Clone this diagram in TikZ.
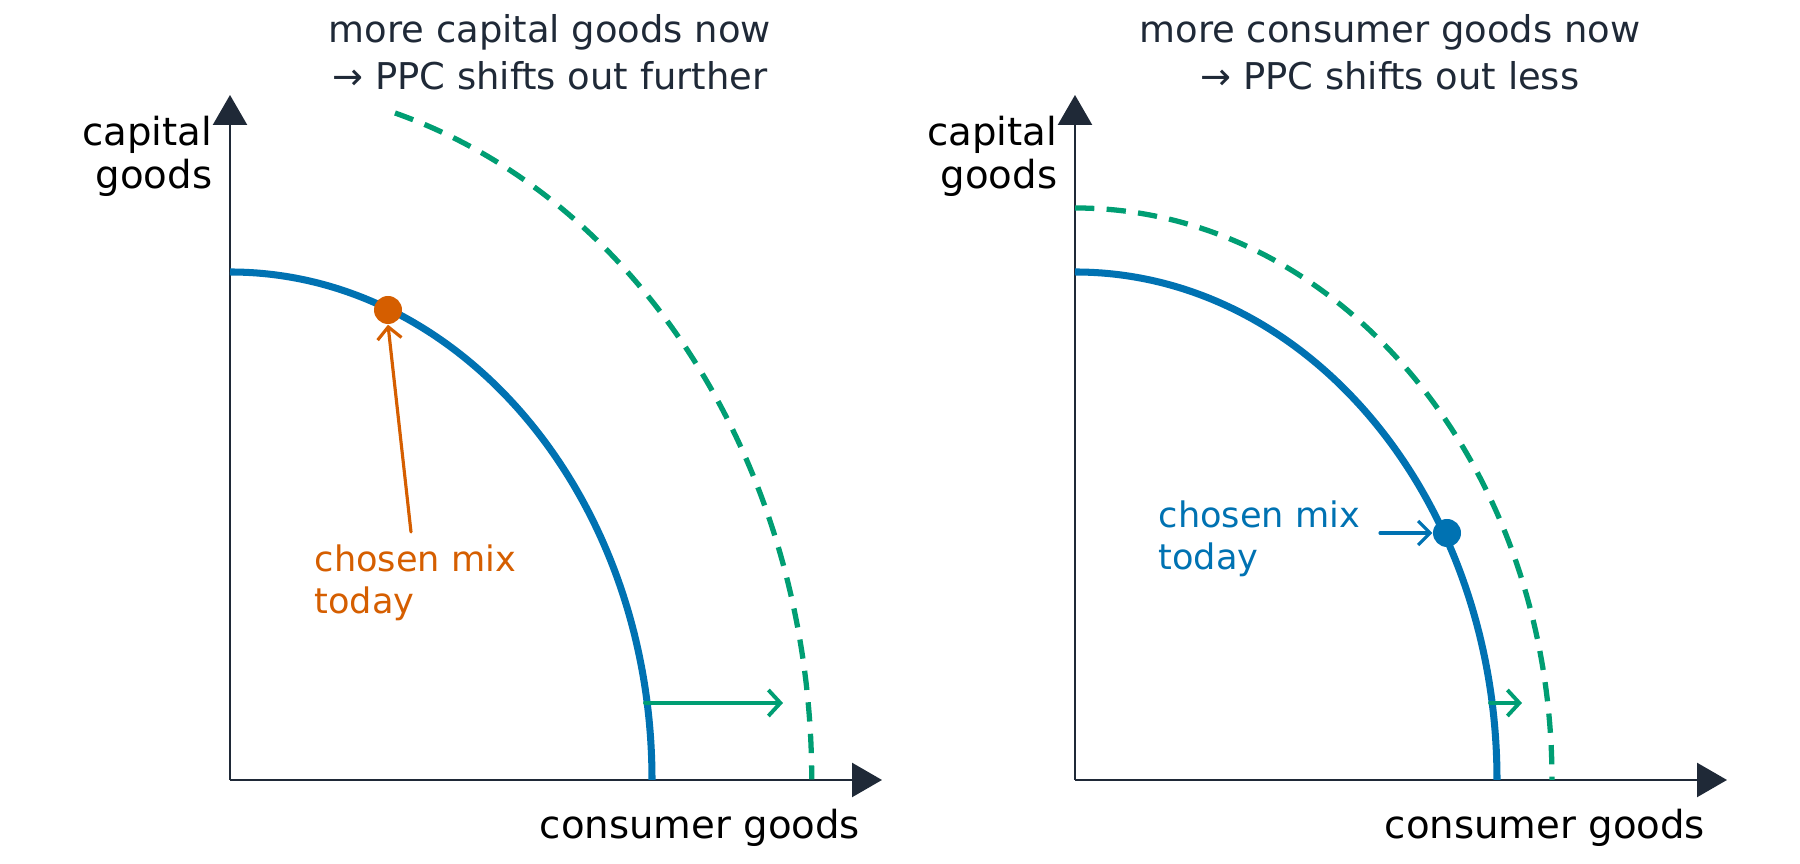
\documentclass[tikz,border=0pt]{standalone}
\usepackage{fontspec}
\setmainfont{DejaVu Sans}
\usetikzlibrary{arrows.meta,positioning}
\definecolor{ppcblue}{HTML}{0072B2}
\definecolor{ppcorange}{HTML}{D55E00}
\definecolor{ppcgreen}{HTML}{009E73}
\definecolor{axisdark}{HTML}{1F2937}
\tikzset{
  axisline/.style={line width=0.7pt,color=axisdark,-{Triangle[length=0.3cm,width=0.34cm]}},
  oldppc/.style={line width=2pt,color=ppcblue},
  newppc/.style={line width=1.5pt,color=ppcgreen,dash pattern=on 5.5pt off 3.5pt},
  shiftarrow/.style={line width=1.1pt,color=ppcgreen,line cap=round,-{Straight Barb[length=1.2mm,width=2.6mm]}},
  mixarrow/.style={line width=0.9pt,line cap=round,-{Straight Barb[length=1.2mm,width=2.4mm]}},
  mixdot/.style={circle,fill,inner sep=0pt,minimum size=0.28cm},
  titletext/.style={color=axisdark,font=\fontsize{10.5}{12}\selectfont},
  axistext/.style={align=right,font=\fontsize{11}{12.5}\selectfont,inner sep=0pt},
  mixtext/.style={align=left,font=\fontsize{10}{12}\selectfont,inner sep=0pt}
}
\begin{document}
\begin{tikzpicture}
\useasboundingbox (0,0) rectangle (18,8.64);
% left panel
\coordinate (o1) at (2.30,0.84);
\draw[axisline] (o1) -- (2.30,7.69);
\draw[axisline] (o1) -- (8.82,0.84);
\draw[oldppc] (2.30,5.92) arc[start angle=90,end angle=0,x radius=4.22,y radius=5.08];
\draw[newppc] (3.95,7.51) arc[start angle=73.5,end angle=0,x radius=5.82,y radius=6.95];
\node[titletext] (t1a) at (5.50,8.32) {more capital goods now};
\node[titletext] (t1b) at (5.50,7.88) {→ PPC shifts out further};
\node[axistext,anchor=north east] (y1) at (2.13,7.49) {capital\\goods};
\node[axistext] (x1) at (7.00,0.36) {consumer goods};
\node[mixdot,color=ppcorange] (dot1) at (3.88,5.54) {};
\node[mixtext,color=ppcorange,anchor=north west] (mix1) at (3.14,3.20) {chosen mix\\today};
\coordinate (tail1) at (4.11,3.32);
\draw[mixarrow,color=ppcorange] (tail1) -- (dot1.south);
\coordinate (s1a) at (6.45,1.61);
\coordinate (s1b) at (7.83,1.61);
\draw[shiftarrow] (s1a) -- (s1b);
% right panel
\coordinate (o2) at (10.75,0.84);
\draw[axisline] (o2) -- (10.75,7.69);
\draw[axisline] (o2) -- (17.27,0.84);
\draw[oldppc] (10.75,5.92) arc[start angle=90,end angle=0,x radius=4.22,y radius=5.08];
\draw[newppc] (10.75,6.56) arc[start angle=90,end angle=0,x radius=4.77,y radius=5.72];
\node[titletext] (t2a) at (13.90,8.32) {more consumer goods now};
\node[titletext] (t2b) at (13.90,7.88) {→ PPC shifts out less};
\node[axistext,anchor=north east] (y2) at (10.58,7.49) {capital\\goods};
\node[axistext] (x2) at (15.45,0.36) {consumer goods};
\node[mixdot,color=ppcblue] (dot2) at (14.47,3.31) {};
\node[mixtext,color=ppcblue,anchor=north west] (mix2) at (11.58,3.64) {chosen mix\\today};
\coordinate (tail2) at (13.80,3.31);
\draw[mixarrow,color=ppcblue] (tail2) -- (dot2.west);
\coordinate (s2a) at (14.90,1.61);
\coordinate (s2b) at (15.22,1.61);
\draw[shiftarrow] (s2a) -- (s2b);
\end{tikzpicture}
\end{document}
